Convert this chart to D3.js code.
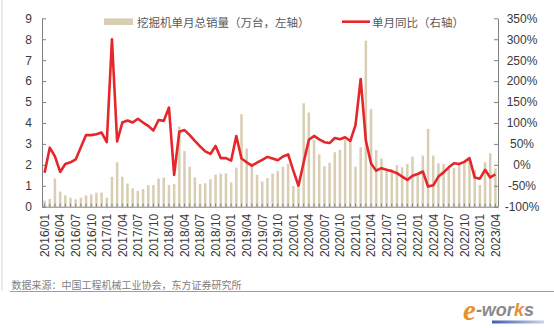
<!DOCTYPE html>
<html><head><meta charset="utf-8">
<script src="https://cdn.jsdelivr.net/npm/d3@7/dist/d3.min.js"></script>
<style>body{margin:0;background:#fff;} svg{display:block;}</style>
</head><body><svg id="c" width="554" height="328"></svg>
<script>
const months = [
"2016/01","2016/02","2016/03","2016/04","2016/05","2016/06","2016/07","2016/08","2016/09","2016/10","2016/11","2016/12",
"2017/01","2017/02","2017/03","2017/04","2017/05","2017/06","2017/07","2017/08","2017/09","2017/10","2017/11","2017/12",
"2018/01","2018/02","2018/03","2018/04","2018/05","2018/06","2018/07","2018/08","2018/09","2018/10","2018/11","2018/12",
"2019/01","2019/02","2019/03","2019/04","2019/05","2019/06","2019/07","2019/08","2019/09","2019/10","2019/11","2019/12",
"2020/01","2020/02","2020/03","2020/04","2020/05","2020/06","2020/07","2020/08","2020/09","2020/10","2020/11","2020/12",
"2021/01","2021/02","2021/03","2021/04","2021/05","2021/06","2021/07","2021/08","2021/09","2021/10","2021/11","2021/12",
"2022/01","2022/02","2022/03","2022/04","2022/05","2022/06","2022/07","2022/08","2022/09","2022/10","2022/11","2022/12",
"2023/01","2023/02","2023/03","2023/04"];

// 挖掘机单月总销量（万台）
const sales = [
0.29,0.37,1.35,0.72,0.54,0.43,0.35,0.43,0.54,0.59,0.67,0.68,
0.43,1.43,2.12,1.43,1.11,0.88,0.75,0.84,1.03,1.03,1.35,1.39,
1.04,1.08,3.83,2.66,1.91,1.40,1.08,1.12,1.31,1.53,1.58,1.59,
1.16,1.87,4.42,2.78,2.07,1.52,1.20,1.36,1.58,1.70,1.91,2.05,
0.99,0.93,4.94,4.50,3.19,2.50,1.93,2.10,2.60,2.72,3.20,3.15,
1.91,2.84,7.93,4.67,2.71,2.30,1.73,1.78,1.99,1.88,2.04,2.39,
1.50,2.44,3.72,2.44,2.07,2.04,1.81,1.85,2.03,2.13,2.20,1.75,
1.04,2.12,2.55,1.83];

// 单月同比（%）
const yoy = [
-19,41,20,-17,2,6,13,42,71,71,73,77,
54,300,56,101,106,101,110,101,93,82,107,105,
137,-24,79,83,71,57,44,32,26,45,16,16,
10,69,15,6,-2,5,12,19,15,11,20,25,
-14,-50,6,60,69,61,54,52,64,61,66,57,
95,205,58,3,-14,-8,-12,-15,-20,-28,-36,-26,
-22,-16,-52,-49,-28,-18,-6,4,2,7,16,-30,
-33,-12,-30,-23];

const tickLabels = ["2016/01","2016/04","2016/07","2016/10","2017/01","2017/04","2017/07","2017/10",
"2018/01","2018/04","2018/07","2018/10","2019/01","2019/04","2019/07","2019/10",
"2020/01","2020/04","2020/07","2020/10","2021/01","2021/04","2021/07","2021/10",
"2022/01","2022/04","2022/07","2022/10","2023/01","2023/04"];
const leftTicks = [0,1,2,3,4,5,6,7,8,9];
const rightTicks = [-100,-50,0,50,100,150,200,250,300,350];
const legendBar = "挖掘机单月总销量（万台，左轴）";
const legendLine = "单月同比（右轴）";
const sourceText = "数据来源：中国工程机械工业协会，东方证券研究所";

const barColor = "#D9CEB3";
const lineColor = "#E5262B";
const axisColor = "#808080";
const textColor = "#3a3a3a";
const latin = "'Liberation Sans', Arial, sans-serif";
const cjk = "'Noto Sans CJK SC', 'Liberation Sans', sans-serif";

const svg = d3.select("#c");
const L = 42, R = 498, T = 18.3, B = 206.7;

const x = d3.scaleBand().domain(months).range([L, R]).padding(0);
const xc = m => x(m) + x.bandwidth() / 2;
const yL = d3.scaleLinear().domain([0, 9]).range([B, T]);
const yR = d3.scaleLinear().domain([-100, 350]).range([B, T]);

// left border line
svg.append("line").attr("x1", 2).attr("x2", 2).attr("y1", 0).attr("y2", 291)
  .attr("stroke", "#d6d6d6").attr("stroke-width", 1);

// bars
const bw = 2.5;
svg.append("g").selectAll("rect").data(months).join("rect")
  .attr("x", (m) => xc(m) - bw / 2)
  .attr("y", (m, i) => yL(sales[i]))
  .attr("width", bw)
  .attr("height", (m, i) => yL(0) - yL(sales[i]))
  .attr("fill", barColor);

// axes
const gL = svg.append("g").attr("transform", `translate(${L},0)`)
  .call(d3.axisLeft(yL).tickValues(leftTicks).tickSize(-4).tickPadding(10).tickSizeOuter(0));
const gR = svg.append("g").attr("transform", `translate(${R},0)`)
  .call(d3.axisRight(yR).tickValues(rightTicks).tickSize(-4).tickPadding(24).tickSizeOuter(0)
    .tickFormat(d => d + "%"));
gR.selectAll("text").attr("text-anchor", "middle");

const gB = svg.append("g").attr("transform", `translate(0,${B})`)
  .call(d3.axisBottom(x).tickValues(months).tickSize(-3).tickSizeOuter(0).tickFormat(""));
const gB2 = svg.append("g").attr("transform", `translate(0,${B})`)
  .call(d3.axisBottom(x).tickValues(tickLabels).tickSize(0).tickSizeOuter(0));
gB2.select(".domain").remove();
gB2.selectAll("text")
  .attr("transform", "rotate(-90)")
  .attr("text-anchor", "end")
  .attr("x", -7).attr("y", 0).attr("dy", "0.36em");

[gL, gR, gB, gB2].forEach(g => {
  g.selectAll(".domain").attr("stroke", axisColor);
  g.selectAll(".tick line").attr("stroke", axisColor);
  g.selectAll("text").attr("fill", textColor).attr("font-size", 12).attr("font-family", latin);
});

// line
svg.append("path").datum(months)
  .attr("fill", "none").attr("stroke", lineColor).attr("stroke-width", 2.6)
  .attr("stroke-linejoin", "round")
  .attr("d", d3.line().x(m => xc(m)).y((m, i) => yR(yoy[i])));

// legend
svg.append("rect").attr("x", 104).attr("y", 18.4).attr("width", 29).attr("height", 6.6).attr("fill", barColor);
svg.append("text").attr("x", 137).attr("y", 21.7).attr("dominant-baseline", "central")
  .attr("font-size", 11.5).attr("font-family", cjk).attr("fill", "#595959").text(legendBar);
svg.append("line").attr("x1", 342).attr("x2", 370).attr("y1", 21.7).attr("y2", 21.7)
  .attr("stroke", lineColor).attr("stroke-width", 2.6);
svg.append("text").attr("x", 372).attr("y", 21.7).attr("dominant-baseline", "central")
  .attr("font-size", 11.5).attr("font-family", cjk).attr("fill", "#595959").text(legendLine);

// source
svg.append("text").attr("x", 11.5).attr("y", 284).attr("dominant-baseline", "central")
  .attr("font-size", 10).attr("font-family", cjk).attr("fill", "#808080").text(sourceText);
svg.append("line").attr("x1", 10).attr("x2", 554).attr("y1", 291.5).attr("y2", 291.5)
  .attr("stroke", "#EE7A7A").attr("stroke-width", 1);

// e-works logo
const defs = svg.append("defs");
const gr = defs.append("linearGradient").attr("id", "bl").attr("x1", "0").attr("x2", "1");
gr.append("stop").attr("offset", "0").attr("stop-color", "#3d5fae");
gr.append("stop").attr("offset", "1").attr("stop-color", "#c9d3ea");
svg.append("rect").attr("x", 492).attr("y", 320.5).attr("width", 52).attr("height", 3).attr("fill", "url(#bl)");
const logo = svg.append("text").attr("font-family", latin).attr("font-style", "italic").attr("font-weight", "bold");
logo.append("tspan").attr("x", 463).attr("y", 320).attr("font-size", 29).attr("fill", "#E8912E")
  .attr("font-family", "'Liberation Serif', serif").text("e");
logo.append("tspan").attr("y", 316).attr("font-size", 18).attr("fill", "#8a8a8a").text("-wor");
logo.append("tspan").attr("font-size", 18).attr("fill", "#E8912E").text("k");
logo.append("tspan").attr("font-size", 18).attr("fill", "#8a8a8a").text("s");
</script></body></html>
